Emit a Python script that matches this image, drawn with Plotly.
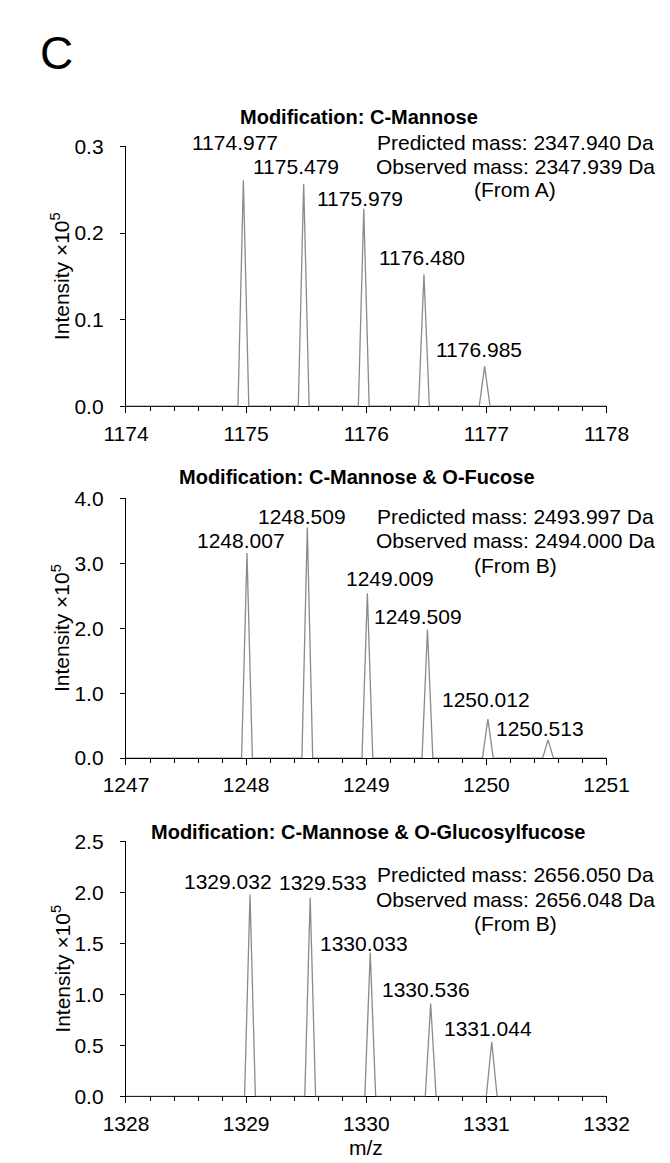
import plotly.graph_objects as go

W, H = 670, 1163

# ---------------- data ----------------
titles = ["Modification: C-Mannose",
          "Modification: C-Mannose & O-Fucose",
          "Modification: C-Mannose & O-Glucosylfucose"]

mz1 = [1174.977, 1175.479, 1175.979, 1176.480, 1176.985]
int1 = [0.261, 0.257, 0.228, 0.152, 0.046]

mz2 = [1248.007, 1248.509, 1249.009, 1249.509, 1250.012, 1250.513]
int2 = [3.16, 3.55, 2.54, 1.98, 0.60, 0.28]

mz3 = [1329.032, 1329.533, 1330.033, 1330.536, 1331.044]
int3 = [1.98, 1.95, 1.41, 0.91, 0.535]

xranges = [[1174, 1178], [1247, 1251], [1328, 1332]]
yranges = [[0, 0.3], [0, 4.0], [0, 2.5]]
ydticks = [0.1, 1.0, 0.5]

mass_text = [
    ["Predicted mass: 2347.940 Da", "Observed mass: 2347.939 Da", "(From A)"],
    ["Predicted mass: 2493.997 Da", "Observed mass: 2494.000 Da", "(From B)"],
    ["Predicted mass: 2656.050 Da", "Observed mass: 2656.048 Da", "(From B)"],
]

# ---------------- style / layout (pixels) ----------------
FONT = "Liberation Sans, Arial, sans-serif"
FS = 21
peak_hw = 0.045
x_px = (102, 618)
panels_px = [(129, 394), (488, 753), (838, 1098)]
title_y_px = [99, 466, 828]
title_x_px = [352, 350, 362]
mass_y_px = [(125, 149, 173), (507, 531, 556), (872, 897, 922)]
mass_x_px = 520
# label offsets (dx, dy) in pixels relative to the peak apex
lab_off = [
    [(-8, 38), (-8, 17), (-4, 10), (-2, 17), (-6, 17)],
    [(-6, 12), (-5, 11), (23, 15), (-9, 13), (-2, 20), (-8, 11)],
    [(-22, 13), (13, 15), (-6, 9), (-5, 14), (-4, 13)],
]

def px2x(p):
    return p / W

def px2y(p):
    return 1 - p / H

all_mz = [mz1, mz2, mz3]
all_int = [int1, int2, int3]

fig = go.Figure()
annotations = []

for i in range(3):
    sx = "" if i == 0 else str(i + 1)
    xs, ys = [xranges[i][0]], [0]
    for c, h in zip(all_mz[i], all_int[i]):
        xs += [c - peak_hw, c, c + peak_hw]
        ys += [0, h, 0]
    xs.append(xranges[i][1]); ys.append(0)
    fig.add_trace(go.Scatter(x=xs, y=ys, mode="lines",
                             line=dict(color="#8a8a8a", width=1.3),
                             xaxis="x" + sx, yaxis="y" + sx,
                             hoverinfo="skip", showlegend=False))

    top, bot = panels_px[i]
    fig.update_layout(**{
        "xaxis" + sx: dict(
            domain=[px2x(x_px[0]), px2x(x_px[1])],
            anchor="y" + sx, range=xranges[i],
            showgrid=False, zeroline=False,
            showline=True, linecolor="black", linewidth=1.3,
            ticks="outside", ticklen=6, tickwidth=1.3, tickcolor="black",
            dtick=1, tick0=xranges[i][0],
            minor=dict(ticks="outside", ticklen=4, tickwidth=1.2,
                       tickcolor="black", dtick=0.2, showgrid=False),
            tickfont=dict(family=FONT, size=FS, color="black"),
            ticklabelstandoff=2,
            layer="below traces", fixedrange=True,
        ),
        "yaxis" + sx: dict(
            domain=[px2y(bot), px2y(top)],
            anchor="x" + sx, range=yranges[i],
            showgrid=False, zeroline=False,
            showline=True, linecolor="black", linewidth=1.3,
            ticks="outside", ticklen=5, tickwidth=1.3, tickcolor="black",
            dtick=ydticks[i], tick0=0, tickformat=".1f",
            ticklabelstandoff=12,
            tickfont=dict(family=FONT, size=FS, color="black"),
            layer="below traces", fixedrange=True,
        ),
    })

    # panel title
    annotations.append(dict(text="<b>" + titles[i].replace("&", "&amp;") + "</b>",
                            x=px2x(title_x_px[i]), y=px2y(title_y_px[i]),
                            xref="paper", yref="paper", showarrow=False,
                            xanchor="center", yanchor="middle",
                            font=dict(family=FONT, size=20, color="black")))
    # y axis title
    annotations.append(dict(text="Intensity ×10<sup>5</sup>",
                            x=px2x(32), y=px2y((top + bot) / 2),
                            xref="paper", yref="paper", showarrow=False,
                            textangle=-90, xanchor="center", yanchor="middle",
                            font=dict(family=FONT, size=FS, color="black")))
    # mass text
    for line, yy in zip(mass_text[i], mass_y_px[i]):
        annotations.append(dict(text=line, x=px2x(mass_x_px), y=px2y(yy),
                                xref="paper", yref="paper", showarrow=False,
                                xanchor="center", yanchor="middle",
                                font=dict(family=FONT, size=FS, color="black")))
    # peak labels
    for (c, h), (dx, dy) in zip(zip(all_mz[i], all_int[i]), lab_off[i]):
        annotations.append(dict(text=f"{c:.3f}", x=c, y=h,
                                xref="x" + sx, yref="y" + sx, showarrow=False,
                                xanchor="center", yanchor="middle",
                                xshift=dx, yshift=dy,
                                font=dict(family=FONT, size=FS, color="black")))

# panel letter
annotations.append(dict(text="C", x=px2x(27), y=px2y(34), xref="paper", yref="paper",
                        showarrow=False, xanchor="center", yanchor="middle",
                        font=dict(family=FONT, size=46, color="black")))
# x axis title
annotations.append(dict(text="m/z", x=px2x(360), y=px2y(1150), xref="paper", yref="paper",
                        showarrow=False, xanchor="center", yanchor="middle",
                        font=dict(family=FONT, size=FS, color="black")))

fig.update_layout(width=W, height=H, margin=dict(l=0, r=0, t=0, b=0),
                  paper_bgcolor="white", plot_bgcolor="white",
                  annotations=annotations, showlegend=False)

fig.write_html("out.html")
